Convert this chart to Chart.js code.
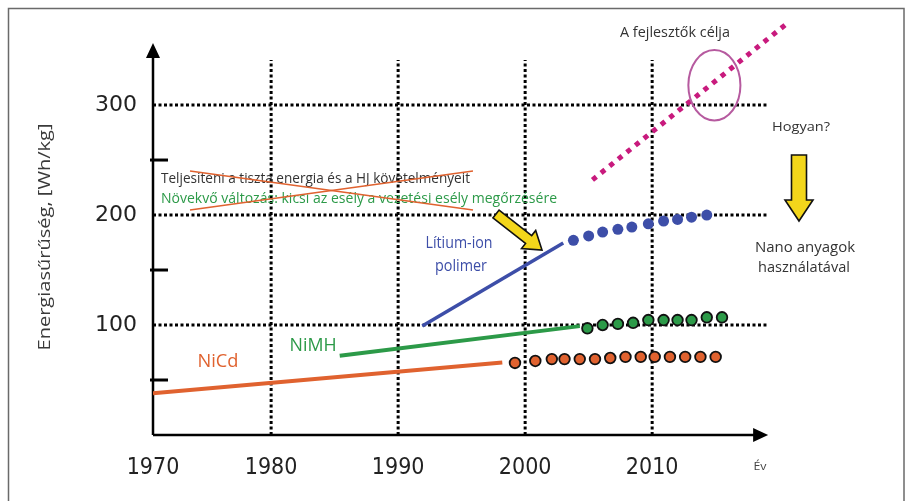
<!DOCTYPE html>
<html><head><meta charset="utf-8">
<script src="https://cdn.jsdelivr.net/npm/chart.js@4.4.1/dist/chart.umd.min.js"></script>
<style>html,body{margin:0;padding:0;background:#fff}canvas{display:block}</style>
</head><body>
<canvas id="c" width="911" height="501"></canvas>
<script>
// Energy density of rechargeable battery technologies, with outlook
const nicdYears = [1970.7, 1998.2];
const nicdValues = [38, 66];
const nicdOutlookYears = [1999.2, 2000.8, 2002.1, 2003.1, 2004.3, 2005.5, 2006.7, 2007.9, 2009.1, 2010.2, 2011.4, 2012.6, 2013.8, 2015.0];
const nicdOutlookValues = [65.5, 67.3, 69, 69, 69, 69, 70, 71, 71, 71, 71, 71, 71, 71];

const nimhYears = [1985.4, 2004.3];
const nimhValues = [72, 99];
const nimhOutlookYears = [2004.9, 2006.1, 2007.3, 2008.5, 2009.7, 2010.9, 2012.0, 2013.1, 2014.3, 2015.5];
const nimhOutlookValues = [97, 100, 101, 102, 104.5, 104.5, 104.5, 104.5, 107, 107];

const liionYears = [1991.9, 2003.0];
const liionValues = [99, 174.5];
const liionOutlookYears = [2003.8, 2005.0, 2006.1, 2007.3, 2008.4, 2009.7, 2010.9, 2012.0, 2013.1, 2014.3];
const liionOutlookValues = [177, 181, 184.5, 187, 189, 192, 194.5, 196, 198, 200];

const targetYears = [2005.3, 2020.6];
const targetValues = [232, 374];
// developers' goal region (centre and half-extents in data units)
const goalCenter = [2014.9, 318];
const goalRadius = [2.05, 32];

const yTickValues = [100, 200, 300];
const yMinorTicks = [50, 150, 250];
const xTickValues = [1970.7, 1980, 1990, 2000, 2010];
const xTickLabels = ['1970', '1980', '1990', '2000', '2010'];
const xGridYears = [1980, 1990, 2000, 2010];
const yGridValues = [100, 200, 300];

const xMin = 1970.7, xMax = 2021.64, yMin = 0, yMax = 386.4;
const xAxisEnd = 2019.13, yAxisTop = 356.4, gridTop = 341, gridRight = 2019.0;

const pts = (xs, ys) => xs.map((x, i) => ({x, y: ys[i]}));

const ORANGE = '#e0622f', GREEN = '#2c9a48', BLUE = '#3d4ea8', MAGENTA = '#c81a7d';
const TEXT_FONT = '"Open Sans", "Noto Sans", sans-serif';

// Text at a given font size, stretched horizontally to a given width
function fitText(ctx, text, cx, cy, w, size, color, rot) {
  ctx.save();
  ctx.font = size + 'px ' + TEXT_FONT;
  const m = ctx.measureText(text).width;
  ctx.fillStyle = color;
  ctx.textAlign = 'center';
  ctx.textBaseline = 'middle';
  ctx.translate(cx, cy);
  if (rot) ctx.rotate(rot);
  ctx.scale(w / m, 1);
  ctx.fillText(text, 0, 0);
  ctx.restore();
}

function blockArrow(ctx, x0, y0, x1, y1, shaftW, headL, headW) {
  const dx = x1 - x0, dy = y1 - y0, len = Math.hypot(dx, dy);
  ctx.save();
  ctx.translate(x0, y0);
  ctx.rotate(Math.atan2(dy, dx));
  ctx.beginPath();
  ctx.moveTo(0, -shaftW / 2);
  ctx.lineTo(len - headL, -shaftW / 2);
  ctx.lineTo(len - headL, -headW / 2);
  ctx.lineTo(len, 0);
  ctx.lineTo(len - headL, headW / 2);
  ctx.lineTo(len - headL, shaftW / 2);
  ctx.lineTo(0, shaftW / 2);
  ctx.closePath();
  ctx.fillStyle = '#f3d61b';
  ctx.fill();
  ctx.lineWidth = 1.6;
  ctx.strokeStyle = '#111';
  ctx.lineJoin = 'miter';
  ctx.stroke();
  ctx.restore();
}

const decor = {
  id: 'decor',
  beforeDraw(chart) {
    const ctx = chart.ctx;
    ctx.save();
    ctx.fillStyle = '#fff';
    ctx.fillRect(0, 0, chart.width, chart.height);
    ctx.strokeStyle = '#6a6a6a';
    ctx.lineWidth = 1.5;
    ctx.strokeRect(8.5, 8.5, 895.5, 520);
    ctx.restore();
  },
  beforeDatasetsDraw(chart) {
    const ctx = chart.ctx, xs = chart.scales.x, ys = chart.scales.y;
    const x0 = xs.getPixelForValue(xMin), y0 = ys.getPixelForValue(0);
    ctx.save();
    // dotted grid
    ctx.strokeStyle = '#000';
    ctx.lineWidth = 3;
    ctx.setLineDash([3, 2.5]);
    yGridValues.forEach(v => {
      const y = ys.getPixelForValue(v);
      ctx.beginPath(); ctx.moveTo(x0, y); ctx.lineTo(xs.getPixelForValue(gridRight), y); ctx.stroke();
    });
    xGridYears.forEach(v => {
      const x = xs.getPixelForValue(v);
      ctx.beginPath(); ctx.moveTo(x, y0); ctx.lineTo(x, ys.getPixelForValue(gridTop)); ctx.stroke();
    });
    ctx.setLineDash([]);
    // minor ticks
    ctx.lineWidth = 3;
    yMinorTicks.forEach(v => {
      const y = ys.getPixelForValue(v);
      ctx.beginPath(); ctx.moveTo(x0 - 3, y); ctx.lineTo(x0 + 15, y); ctx.stroke();
    });
    // axes with arrow heads
    const xe = xs.getPixelForValue(xAxisEnd), yt = ys.getPixelForValue(yAxisTop);
    ctx.lineWidth = 2.5;
    ctx.beginPath(); ctx.moveTo(x0, y0); ctx.lineTo(xe - 12, y0); ctx.stroke();
    ctx.beginPath(); ctx.moveTo(x0, y0); ctx.lineTo(x0, yt + 12); ctx.stroke();
    ctx.fillStyle = '#000';
    ctx.beginPath(); ctx.moveTo(xe, y0); ctx.lineTo(xe - 15, y0 - 7); ctx.lineTo(xe - 15, y0 + 7); ctx.closePath(); ctx.fill();
    ctx.beginPath(); ctx.moveTo(x0, yt); ctx.lineTo(x0 - 7, yt + 15); ctx.lineTo(x0 + 7, yt + 15); ctx.closePath(); ctx.fill();
    ctx.restore();
  },
  afterDatasetsDraw(chart) {
    const ctx = chart.ctx, xs = chart.scales.x, ys = chart.scales.y;
    ctx.save();
    // goal ellipse
    const cx = xs.getPixelForValue(goalCenter[0]), cy = ys.getPixelForValue(goalCenter[1]);
    const rx = xs.getPixelForValue(goalCenter[0] + goalRadius[0]) - cx;
    const ry = cy - ys.getPixelForValue(goalCenter[1] + goalRadius[1]);
    ctx.strokeStyle = '#b65a9f';
    ctx.lineWidth = 2;
    ctx.beginPath(); ctx.ellipse(cx, cy, rx, ry, 0, 0, Math.PI * 2); ctx.stroke();
    ctx.restore();

    // axis titles
    fitText(ctx, 'Energiasűrűség, [Wh/kg]', 45, 237, 227, 16, '#3a3a3a', -Math.PI / 2);
    fitText(ctx, 'Év', 760, 467, 13, 11, '#444');

    // annotations
    fitText(ctx, 'A fejlesztők célja', 675, 33, 110, 14, '#333');
    fitText(ctx, 'Hogyan?', 801, 127, 58, 13.5, '#333');
    fitText(ctx, 'Nano anyagok', 805, 248, 100, 15, '#333');
    fitText(ctx, 'használatával', 804, 268, 92, 15, '#333');
    fitText(ctx, 'Lítium-ion', 459, 243, 67, 16, BLUE);
    fitText(ctx, 'polimer', 461, 266, 52, 16, BLUE);
    fitText(ctx, 'NiCd', 218, 362, 41, 18, ORANGE);
    fitText(ctx, 'NiMH', 313, 346, 47, 18, GREEN);
    fitText(ctx, 'Teljesíteni a tiszta energia és a HJ követelményeit', 315.5, 179, 309, 14, '#333');
    fitText(ctx, 'Növekvő változás: kicsi az esély a vezetési esély megőrzésére', 359, 199, 396, 14, GREEN);

    // crossed-out statement
    ctx.save();
    ctx.strokeStyle = ORANGE;
    ctx.lineWidth = 1.6;
    ctx.beginPath(); ctx.moveTo(190, 171); ctx.lineTo(473, 210); ctx.stroke();
    ctx.beginPath(); ctx.moveTo(190, 210); ctx.lineTo(473, 171); ctx.stroke();
    ctx.restore();

    blockArrow(ctx, 496, 214, 542, 250, 10, 17, 23);
    blockArrow(ctx, 799, 155, 799, 221, 15, 21, 28);
  }
};

new Chart(document.getElementById('c'), {
  type: 'scatter',
  data: {
    datasets: [
      { data: pts(nicdYears, nicdValues), showLine: true, borderColor: ORANGE, borderWidth: 4, pointRadius: 0 },
      { data: pts(nimhYears, nimhValues), showLine: true, borderColor: GREEN, borderWidth: 4, pointRadius: 0 },
      { data: pts(liionYears, liionValues), showLine: true, borderColor: BLUE, borderWidth: 3.5, pointRadius: 0 },
      { data: pts(targetYears, targetValues), showLine: true, borderColor: MAGENTA, borderWidth: 5, borderDash: [5, 6], borderCapStyle: 'butt', pointRadius: 0 },
      { data: pts(nicdOutlookYears, nicdOutlookValues), backgroundColor: ORANGE, borderColor: '#111', borderWidth: 1.8, pointRadius: 5.3 },
      { data: pts(nimhOutlookYears, nimhOutlookValues), backgroundColor: GREEN, borderColor: '#111', borderWidth: 1.8, pointRadius: 5.3 },
      { data: pts(liionOutlookYears, liionOutlookValues), backgroundColor: BLUE, borderColor: BLUE, borderWidth: 0, pointRadius: 5.5 }
    ]
  },
  options: {
    responsive: false,
    animation: false,
    layout: { padding: { left: 0, top: 10, right: 111, bottom: 0 } },
    plugins: { legend: { display: false }, tooltip: { enabled: false } },
    scales: {
      x: {
        type: 'linear', min: xMin, max: xMax,
        grid: { display: false }, border: { display: false },
        afterBuildTicks: s => { s.ticks = xTickValues.map(v => ({ value: v })); },
        afterFit: s => { s.height = 66; s.paddingLeft = 0; s.paddingRight = 0; },
        ticks: {
          autoSkip: false, maxRotation: 0, padding: 11, color: '#222',
          font: { family: '"DejaVu Sans Condensed", "Liberation Sans Narrow", "DejaVu Sans", sans-serif', size: 23 },
          callback: (v, i) => xTickLabels[i]
        }
      },
      y: {
        min: yMin, max: yMax,
        grid: { display: false }, border: { display: false },
        afterBuildTicks: s => { s.ticks = yTickValues.map(v => ({ value: v })); },
        afterFit: s => { s.width = 153; s.paddingTop = 0; s.paddingBottom = 0; },
        ticks: {
          padding: 8, color: '#222',
          font: { family: '"DejaVu Sans", sans-serif', size: 22 },
          callback: v => String(v)
        }
      }
    }
  },
  plugins: [decor]
});
</script>
</body></html>
